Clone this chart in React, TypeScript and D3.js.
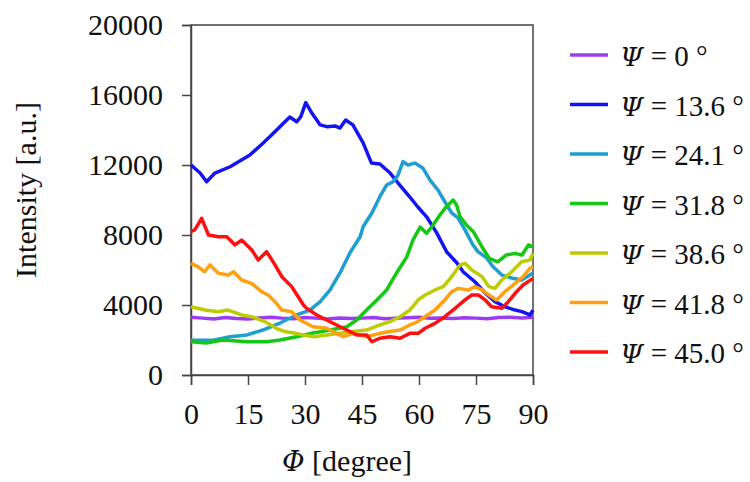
import React, { useEffect, useRef } from "react";
import * as d3 from "d3";

type Pt = [number, number];

const PSI_LABELS = ["0", "13.6", "24.1", "31.8", "38.6", "41.8", "45.0"];
const COLORS = ["#9b3cf0", "#1414f0", "#1e9fd0", "#14c814", "#bccc00", "#ffa010", "#ff1010"];

const PSI_0: Pt[] = [
  [0, 3300], [3, 3250], [6, 3200], [9, 3280], [12, 3230], [15, 3200], [18, 3260], [21, 3300],
  [24, 3250], [27, 3220], [30, 3280], [33, 3250], [36, 3200], [39, 3260], [42, 3230], [45, 3250],
  [48, 3280], [51, 3220], [54, 3250], [57, 3270], [60, 3300], [63, 3240], [66, 3260], [69, 3230],
  [72, 3270], [75, 3250], [78, 3220], [81, 3280], [84, 3300], [87, 3260], [90, 3300],
];

const PSI_13_6: Pt[] = [
  [0, 12000], [2.4, 11540], [4.1, 11040], [6.3, 11540], [10.3, 11900], [12.4, 12170], [15.5, 12570],
  [19, 13260], [21.2, 13710], [23.4, 14190], [26, 14740], [27.8, 14470], [28.9, 14760], [30.2, 15560],
  [31.8, 14970], [34, 14290], [35.7, 14190], [37.9, 14230], [39.2, 14110], [40.7, 14570], [42.6, 14290],
  [45.3, 13260], [47.5, 12110], [49.7, 12060], [52.4, 11540], [54.5, 10970], [57.6, 10170], [59.7, 9600],
  [62, 9040], [64.7, 8110], [67.3, 7030], [70, 6400], [71.6, 5900], [74.7, 5330], [77.4, 4690],
  [80, 4190], [82.6, 3900], [85.3, 3710], [87.1, 3620], [89.2, 3430], [90, 3710],
];

const PSI_24_1: Pt[] = [
  [0, 1990], [5.8, 1990], [10.3, 2190], [14.7, 2290], [18.9, 2570], [23.4, 2970], [27.8, 3430],
  [31.3, 3710], [34, 4190], [36.6, 4860], [39.2, 5830], [41.8, 6970], [44.5, 7900], [45.3, 8470],
  [47.6, 9260], [49.7, 10190], [51.5, 10860], [53.2, 11050], [54.5, 11430], [55.8, 12190], [57.1, 12000],
  [58.9, 12110], [61, 11830], [62.9, 11140], [65, 10570], [66.8, 9900], [68.6, 9260], [70.3, 8970],
  [72.1, 8290], [74.2, 7430], [75.5, 7050], [77.8, 6690], [79.5, 6190], [81.8, 5710], [84.4, 5540],
  [87, 5430], [89.2, 5710], [90, 5830],
];

const PSI_31_8: Pt[] = [
  [0, 1900], [4, 1830], [8.4, 2000], [14.7, 1900], [19.9, 1900], [23.4, 2000], [27.8, 2190],
  [32.1, 2400], [36.6, 2570], [41, 2760], [43.6, 3140], [46.2, 3710], [48.9, 4290], [51.5, 4860],
  [54.1, 5830], [56.8, 6760], [58.4, 7710], [60.3, 8450], [62, 8100], [63.7, 8570], [65.5, 9140],
  [67.2, 9620], [69, 10000], [69.9, 9710], [70.8, 9050], [72.5, 8570], [74.3, 8190], [76.8, 7240],
  [78.5, 6670], [80.7, 6470], [83, 6860], [85.3, 6950], [87.1, 6860], [88.8, 7430], [90, 7330],
];

const PSI_38_6: Pt[] = [
  [0, 3900], [3.7, 3710], [7.1, 3620], [9.7, 3710], [13.3, 3430], [15.9, 3330], [19.5, 3050],
  [22.4, 2670], [24.7, 2480], [27.4, 2380], [29.6, 2290], [32.4, 2190], [35.7, 2290], [39.2, 2380],
  [42.7, 2480], [46.2, 2570], [49.7, 2860], [52.4, 3050], [55, 3330], [57.6, 3710], [59.8, 4290],
  [61.6, 4570], [64.2, 4860], [66.4, 5050], [68.6, 5620], [70.8, 6290], [72.1, 6380], [73.9, 6000],
  [76.6, 5620], [78.4, 5050], [80, 4950], [81.8, 5430], [84.4, 5900], [87, 6470], [89.2, 6570], [90, 6950],
];

const PSI_41_8: Pt[] = [
  [0, 6380], [1.8, 6190], [3.6, 5900], [5, 6290], [7.2, 5810], [9.8, 5710], [11.2, 5900],
  [13.3, 5430], [15.9, 5240], [18.6, 4760], [20.3, 4570], [22.1, 4190], [23.9, 3710], [26.5, 3620],
  [28.7, 3140], [32.1, 2760], [35.7, 2670], [38.3, 2380], [40.1, 2190], [42.7, 2380], [46.2, 2190],
  [49.7, 2380], [52.4, 2480], [55, 2570], [57.6, 2860], [59.2, 3000], [61.6, 3330], [64.2, 3710],
  [66.8, 4290], [68.6, 4760], [70.3, 4950], [73, 4860], [74.7, 5050], [76.6, 4860], [78.4, 4570],
  [80.4, 4290], [82.6, 4760], [85.3, 5240], [87.4, 5620], [89.2, 6100], [90, 6190],
];

const PSI_45_0: Pt[] = [
  [0, 8200], [1, 8290], [2.8, 8950], [4.6, 8000], [7.2, 7900], [9.4, 7900], [11.6, 7430],
  [13.3, 7710], [16, 7140], [17.7, 6570], [19.9, 7050], [22.1, 6290], [23.9, 5620], [26.5, 5050],
  [28.2, 4470], [29.6, 4000], [30.4, 3810], [33.1, 3430], [35.7, 3140], [38.3, 2860], [41, 2570],
  [43.6, 2290], [46.2, 2290], [47.6, 1900], [49.7, 2100], [52.4, 2190], [55, 2100], [57.6, 2380],
  [59.8, 2380], [61.6, 2670], [64.2, 2950], [66.8, 3330], [69.5, 3810], [72.1, 4290], [73.9, 4570],
  [75.6, 4570], [77.4, 4290], [79.1, 3900], [81.8, 3810], [83.5, 4190], [85.3, 4670], [87.4, 5140], [90, 5520],
];

const SERIES = [PSI_0, PSI_13_6, PSI_24_1, PSI_31_8, PSI_38_6, PSI_41_8, PSI_45_0];
const X_TICKS = [0, 15, 30, 45, 60, 75, 90];
const Y_TICKS = [0, 4000, 8000, 12000, 16000, 20000];

export default function App() {
  const svgRef = useRef<SVGSVGElement | null>(null);

  useEffect(() => {
    const width = 750;
    const height = 482;
    const margin = { top: 25, right: 217, bottom: 107, left: 191 };
    const innerW = width - margin.left - margin.right;
    const innerH = height - margin.top - margin.bottom;
    const font = "Liberation Serif";
    const greekFont = "DejaVu Serif";
    const axisColor = "#444";

    const svg = d3.select(svgRef.current);
    svg.selectAll("*").remove();
    svg.attr("width", width).attr("height", height)
      .attr("font-family", font)
      .style("background", "#fff");

    const g = svg.append("g").attr("transform", `translate(${margin.left},${margin.top})`);

    const x = d3.scaleLinear().domain([0, 90]).range([0, innerW]);
    const y = d3.scaleLinear().domain([0, 20000]).range([innerH, 0]);

    // frame
    g.append("rect")
      .attr("x", 0).attr("y", 0).attr("width", innerW).attr("height", innerH)
      .attr("fill", "none").attr("stroke", axisColor).attr("stroke-width", 1.5);

    // axes
    g.append("g")
      .attr("transform", `translate(0,${innerH})`)
      .call(d3.axisBottom(x).tickValues(X_TICKS).tickSize(10).tickPadding(18).tickFormat(d => String(d)))
      .attr("font-family", font)
      .call(a => a.select(".domain").attr("stroke", axisColor).attr("stroke-width", 1.5))
      .call(a => a.selectAll(".tick line").attr("stroke", axisColor).attr("stroke-width", 1.5))
      .call(a => a.selectAll(".tick text").attr("fill", "#111").attr("font-size", 30));

    g.append("g")
      .call(d3.axisLeft(y).tickValues(Y_TICKS).tickSize(9).tickPadding(19).tickFormat(d => String(d)))
      .attr("font-family", font)
      .call(a => a.select(".domain").attr("stroke", axisColor).attr("stroke-width", 1.5))
      .call(a => a.selectAll(".tick line").attr("stroke", axisColor).attr("stroke-width", 1.5))
      .call(a => a.selectAll(".tick text").attr("fill", "#111").attr("font-size", 30));

    // axis titles
    svg.append("text")
      .attr("transform", `translate(36,190) rotate(-90)`)
      .attr("text-anchor", "middle")
      .attr("fill", "#111")
      .attr("font-size", 30)
      .text("Intensity [a.u.]");

    // greek symbol and plain text as separate <text> so the plain part keeps the serif font
    const symbolLabel = (parent: d3.Selection<any, unknown, null, undefined>, sym: string, rest: string, size: number) => {
      const sg = parent.append("g");
      const s = sg.append("text")
        .attr("x", 0).attr("y", 0)
        .attr("fill", "#111")
        .attr("font-family", greekFont).attr("font-style", "italic")
        .attr("font-size", size * 0.92)
        .text(sym);
      const w = (s.node() as SVGTextElement).getComputedTextLength();
      const r = sg.append("text")
        .attr("x", w).attr("y", 0)
        .attr("fill", "#111")
        .attr("font-family", font).attr("font-size", size)
        .style("white-space", "pre")
        .text(rest);
      const w2 = (r.node() as SVGTextElement).getComputedTextLength();
      return { g: sg, width: w + w2 };
    };

    const xt = symbolLabel(svg as any, "Φ", " [degree]", 30);
    xt.g.attr("transform", `translate(${347 - xt.width / 2},471)`);

    // lines
    const line = d3.line<Pt>().x(d => x(d[0])).y(d => y(d[1]));
    SERIES.forEach((s, i) => {
      g.append("path")
        .datum(s)
        .attr("fill", "none")
        .attr("stroke", COLORS[i])
        .attr("stroke-width", 3.5)
        .attr("stroke-linejoin", "round")
        .attr("d", line);
    });

    // legend
    const legend = svg.append("g").attr("transform", "translate(570,55)");
    PSI_LABELS.forEach((lab, i) => {
      const row = legend.append("g").attr("transform", `translate(0,${i * 49.5})`);
      row.append("line")
        .attr("x1", 0).attr("x2", 38).attr("y1", 0).attr("y2", 0)
        .attr("stroke", COLORS[i]).attr("stroke-width", 3.5);
      const t = symbolLabel(row as any, "Ψ", ` = ${lab} °`, 29);
      t.g.attr("transform", "translate(50,11)");
    });
  }, []);

  return (
    <div style={{ position: "absolute", left: 0, top: 0 }}>
      <svg ref={svgRef} style={{ display: "block" }} />
    </div>
  );
}
